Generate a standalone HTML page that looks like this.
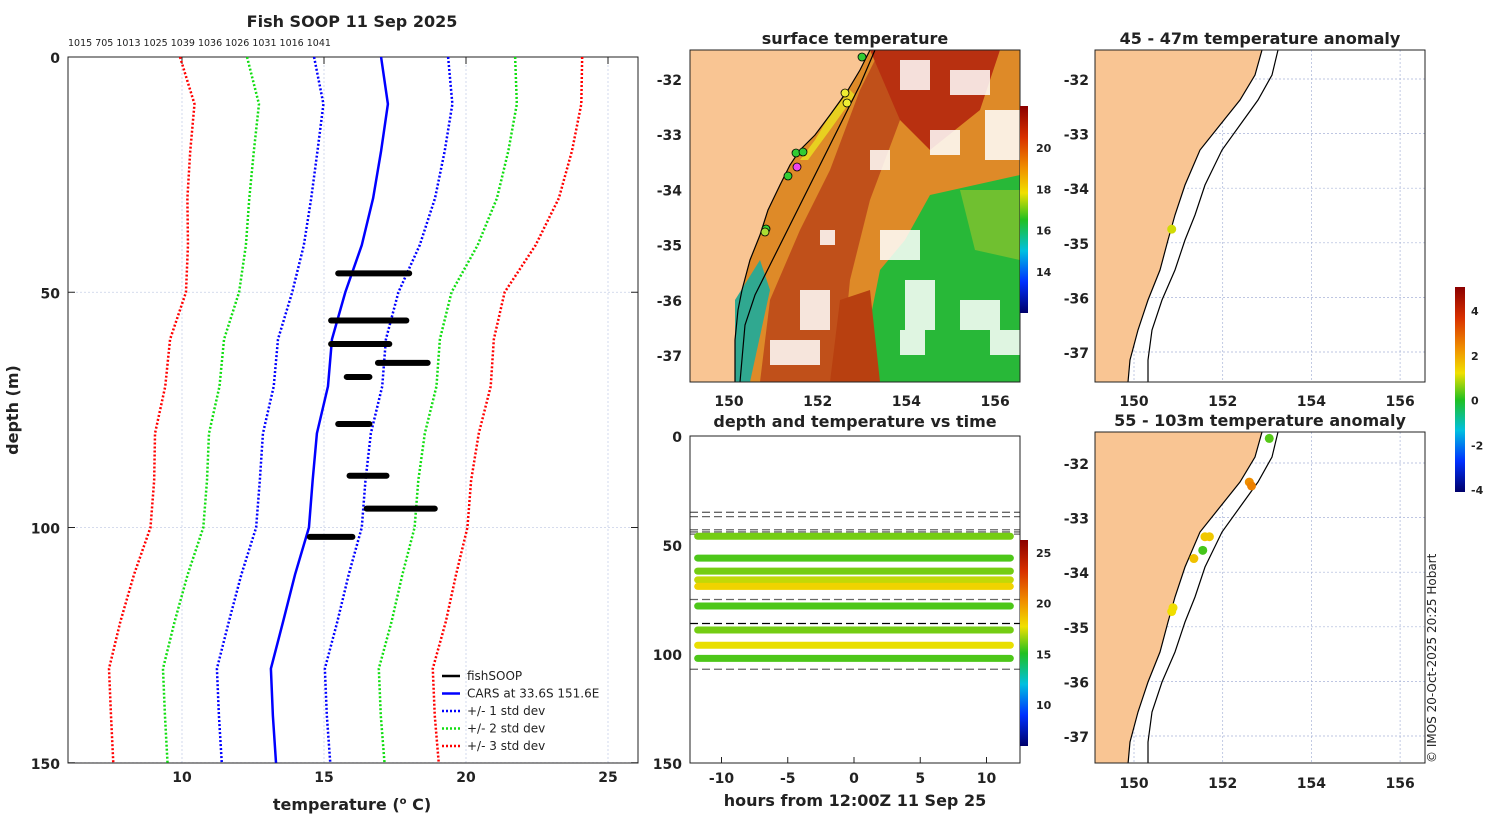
<!DOCTYPE html>
<html><head><meta charset="utf-8"><style>
body{margin:0;background:#fff;}
svg text{font-family:"DejaVu Sans","Liberation Sans",sans-serif;fill:#222;}
.b{font-weight:bold;}
</style></head><body>
<svg id="s" width="1500" height="820" viewBox="0 0 1500 820" xmlns="http://www.w3.org/2000/svg">
<defs>
<linearGradient id="jet" x1="0" y1="0" x2="0" y2="1">
<stop offset="0" stop-color="#8b0000"/><stop offset="0.15" stop-color="#d83000"/><stop offset="0.3" stop-color="#f09000"/><stop offset="0.42" stop-color="#f0e000"/><stop offset="0.55" stop-color="#20c020"/><stop offset="0.7" stop-color="#00c0e0"/><stop offset="0.85" stop-color="#0030ff"/><stop offset="1" stop-color="#00006a"/>
</linearGradient>
<clipPath id="cm"><rect x="690" y="50" width="330" height="332"/></clipPath>
<clipPath id="c1"><rect x="1095" y="50" width="330" height="332"/></clipPath>
<clipPath id="c2"><rect x="1095" y="432" width="330" height="331"/></clipPath>
<g id="coast">
<polygon points="1095,50 1262,50 1255,75 1240,100 1220,125 1200,150 1185,185 1175,215 1168,240 1160,270 1148,300 1138,330 1130,360 1128,382 1095,382" fill="#f9c593"/>
<polyline points="1262,50 1255,75 1240,100 1220,125 1200,150 1185,185 1175,215 1168,240 1160,270 1148,300 1138,330 1130,360 1128,382" fill="none" stroke="#000" stroke-width="1.2"/>
<polyline points="1278,50 1272,75 1258,100 1240,125 1222,150 1205,185 1195,215 1185,240 1175,270 1162,300 1152,330 1148,360 1148,382" fill="none" stroke="#000" stroke-width="1.2"/>
</g>
</defs>
<g id="left"></g>
<g id="mapm"></g>
<g id="mid"></g>
<g id="maps"></g>
<text x="1436" y="763" transform="rotate(-90 1436 763)" font-size="12">© IMOS 20-Oct-2025 20:25 Hobart</text>
</svg>
<script>
// ---- profile data ----
const depths=[0,10,20,30,40,50,60,70,80,90,100,110,120,130,140,150];
const carsMean=[17.01,17.25,17.01,16.73,16.33,15.75,15.28,15.14,14.75,14.6,14.47,13.98,13.56,13.13,13.2,13.31];
const carsSd=[2.36,2.27,2.24,2.18,2.04,1.87,1.9,1.91,1.9,1.86,1.86,1.89,1.91,1.9,1.9,1.91];
const soopDepth=[46,56,61,65,68,78,89,96,102];
const soopTmin=[15.5,15.25,15.25,16.9,15.8,15.5,15.9,16.5,14.5];
const soopTmax=[18.0,17.9,17.3,18.65,16.6,16.6,17.2,18.9,16.0];
const xTicks=[10,15,20,25];
const yTicks=[0,50,100,150];
const topLabels=["1015","705","1013","1025","1039","1036","1026","1031","1016","1041"];
// time panel
const tDepths=[46,56,62,66,69,78,89,96,102];
const tTemps=[16,15.5,16,17,18,15.5,16,17.5,15.5];
const dashDepths=[35,37,43,44,45,75,86,107];
const hTicks=[-10,-5,0,5,10];
// anomaly map dots
const anomLat1=[-34.75];const anomLon1=[150.85];const anomVal1=[1.0];
const anomLat2=[-31.55,-32.35,-32.42,-33.35,-33.35,-33.6,-33.75,-34.72,-34.65];
const anomLon2=[153.05,152.6,152.65,151.6,151.7,151.55,151.35,150.85,150.88];
const anomVal2=[0.3,2.3,2.5,1.5,1.5,0.2,1.6,1.2,1.2];

const NS="http://www.w3.org/2000/svg";
function el(p,t,a,txt){const e=document.createElementNS(NS,t);for(const k in a)e.setAttribute(k,a[k]);if(txt!==undefined)e.textContent=txt;p.appendChild(e);return e;}
const X=t=>182+(t-10)*28.4, Y=d=>57+d*4.705;
const L=document.getElementById('left');
xTicks.forEach(t=>{const g=el(L,'line',{x1:X(t),x2:X(t),y1:57,y2:763,stroke:'#c8d0e8','stroke-width':0.8,'stroke-dasharray':'2,2'});

const tx=el(L,'text',{x:X(t),y:782,'font-size':14,'text-anchor':'middle',class:'b'},t);

el(L,'line',{x1:X(t),x2:X(t),y1:57,y2:64,stroke:'#222'});});
yTicks.forEach(d=>{const g=el(L,'line',{x1:68,x2:638,y1:Y(d),y2:Y(d),stroke:'#c8d0e8','stroke-width':0.8,'stroke-dasharray':'2,2'});

const tx=el(L,'text',{x:60,y:Y(d)+6,'font-size':14,'text-anchor':'end',class:'b'},d);

el(L,'line',{x1:68,x2:75,y1:Y(d),y2:Y(d),stroke:'#222'});el(L,'line',{x1:631,x2:638,y1:Y(d),y2:Y(d),stroke:'#222'});});
const box=el(L,'rect',{x:68,y:57,width:570,height:706,fill:'none',stroke:'#222'});

[[3,'#f00'],[2,'#1d1'],[1,'#00f']].forEach(([n,c])=>{[1,-1].forEach(s=>{
const pts=depths.map((d,i)=>X(carsMean[i]+s*n*carsSd[i])+','+Y(d)).join(' ');
const p=el(L,'polyline',{points:pts,fill:'none',stroke:c,'stroke-width':2.5,'stroke-dasharray':'2,2'});
});});
const mp=el(L,'polyline',{points:depths.map((d,i)=>X(carsMean[i])+','+Y(d)).join(' '),fill:'none',stroke:'#00f','stroke-width':2.5});

soopDepth.forEach((d,i)=>{const s=el(L,'line',{x1:X(soopTmin[i]),x2:X(soopTmax[i]),y1:Y(d),y2:Y(d),stroke:'#000','stroke-width':6,'stroke-linecap':'round'});
});
let t=el(L,'text',{x:352,y:27,'font-size':16,'text-anchor':'middle',class:'b'},'Fish SOOP 11 Sep 2025');

t=el(L,'text',{x:68,y:46,'font-size':9.5},topLabels.join(' '));

t=el(L,'text',{x:352,y:810,'font-size':16,'text-anchor':'middle',class:'b'},'temperature (');
el(t,'tspan',{'font-size':10,dy:-6},'o');el(t,'tspan',{dy:6},' C)');

t=el(L,'text',{x:18,y:410,'font-size':16,'text-anchor':'middle',class:'b',transform:'rotate(-90 18 410)'},'depth (m)');

const leg=[['fishSOOP','#000',''],['CARS at 33.6S 151.6E','#00f',''],['+/- 1 std dev','#00f','2,2'],['+/- 2 std dev','#1d1','2,2'],['+/- 3 std dev','#f00','2,2']];
leg.forEach((e,i)=>{const y=676+i*17.5;el(L,'line',{x1:442,x2:460,y1:y,y2:y,stroke:e[1],'stroke-width':2.5,'stroke-dasharray':e[2]||'none'});
const tt=el(L,'text',{x:467,y:y+4,'font-size':12},e[0]);});

// ---- middle map ----
const M=document.getElementById('mapm');
const g=el(M,'g',{'clip-path':'url(#cm)'});
el(g,'rect',{x:690,y:50,width:330,height:332,fill:'#de8a28'});
el(g,'polygon',{points:'760,382 770,300 800,230 830,170 860,90 880,50 920,50 900,120 870,200 850,280 840,382',fill:'#c0501a'});
el(g,'polygon',{points:'870,50 1000,50 980,110 930,150 900,120',fill:'#b83010'});
el(g,'polygon',{points:'930,195 1020,175 1020,382 875,382 870,320 880,270 905,240',fill:'#28b838'});
el(g,'polygon',{points:'960,190 1020,190 1020,260 975,250',fill:'#70c030'});
el(g,'polygon',{points:'840,300 870,290 880,382 830,382',fill:'#b84010'});
[[900,60,30,30],[950,70,40,25],[985,110,35,50],[930,130,30,25],[880,230,40,30],[905,280,30,50],[800,290,30,40],[770,340,50,25],[960,300,40,30],[870,150,20,20],[990,330,30,25],[900,330,25,25],[820,230,15,15]].forEach(r=>el(g,'rect',{x:r[0],y:r[1],width:r[2],height:r[3],fill:'#fff',opacity:0.85}));
el(g,'polygon',{points:'690,50 870,50 860,70 848,90 830,115 815,135 800,150 790,165 780,185 768,210 760,235 750,260 742,290 738,310 735,340 735,382 690,382',fill:'#f9c593'});
el(g,'polygon',{points:'850,90 830,115 815,140 800,160 808,160 830,130 855,95',fill:'#e8d020'});
el(g,'polygon',{points:'735,300 760,260 770,290 750,382 735,382',fill:'#30a890'});
el(g,'polyline',{points:'870,50 860,70 848,90 830,115 815,135 800,150 790,165 780,185 768,210 760,235 750,260 742,290 738,310 735,340 735,382',fill:'none',stroke:'#000','stroke-width':1.2});
el(g,'polyline',{points:'875,50 860,85 845,115 830,145 815,175 800,205 785,235 770,265 755,295 745,325 740,382',fill:'none',stroke:'#000','stroke-width':1.2});
[[862,57,'#3c3'],[845,93,'#ee3'],[847,103,'#ee3'],[796,153,'#3c3'],[803,152,'#3c3'],[788,176,'#3c3'],[797,167,'#e4e'],[766,229,'#3c3'],[765,232,'#ad3']].forEach(d=>el(g,'circle',{cx:d[0],cy:d[1],r:4,fill:d[2],stroke:'#000','stroke-width':0.8}));
t=el(M,'rect',{x:690,y:50,width:330,height:332,fill:'none',stroke:'#222'});

t=el(M,'text',{x:855,y:44,'font-size':16,'text-anchor':'middle',class:'b'},'surface temperature');

const lons=[150,152,154,156],lats=[-32,-33,-34,-35,-36,-37];
lons.forEach((l,i)=>{el(M,'text',{x:729+i*88.7,y:406,'font-size':14,'text-anchor':'middle',class:'b'},l);});
lats.forEach((l,i)=>{el(M,'text',{x:682,y:85+i*55.2,'font-size':14,'text-anchor':'end',class:'b'},l);});
el(M,'rect',{x:1020,y:106,width:8,height:207,fill:'url(#jet)'});
[20,18,16,14].forEach((v,i)=>el(M,'text',{x:1036,y:152+i*41.3,'font-size':11,class:'b'},v));

// ---- middle bottom ----
const Mi=document.getElementById('mid');
const H=h=>854+h*13.25, D=d=>436+d*2.18;
function frac2col(f){const st=[[0,[139,0,0]],[0.15,[216,48,0]],[0.3,[240,144,0]],[0.42,[240,224,0]],[0.55,[32,192,32]],[0.7,[0,192,224]],[0.85,[0,48,255]],[1,[0,0,106]]];
f=Math.max(0,Math.min(1,f));
for(let i=1;i<st.length;i++){if(f<=st[i][0]){const a=st[i-1],b=st[i],k=(f-a[0])/(b[0]-a[0]);return 'rgb('+a[1].map((c,j)=>Math.round(c+(b[1][j]-c)*k)).join(',')+')';}}return 'rgb(0,0,106)';}
const tcol=v=>frac2col((26.2-v)/20.5);
const anomColor=v=>frac2col((5-v)/9.1);
dashDepths.forEach(d=>{const l=el(Mi,'line',{x1:690,x2:1020,y1:D(d),y2:D(d),stroke:d==86?'#000':'#666','stroke-width':1.3,'stroke-dasharray':'8,4'});
});
tDepths.forEach((d,i)=>{const b=el(Mi,'line',{x1:H(-11.8),x2:H(11.8),y1:D(d),y2:D(d),stroke:tcol(tTemps[i]),'stroke-width':7,'stroke-linecap':'round'});
});
t=el(Mi,'rect',{x:690,y:436,width:330,height:327,fill:'none',stroke:'#222'});

hTicks.forEach(h=>{el(Mi,'text',{x:H(h),y:783,'font-size':14,'text-anchor':'middle',class:'b'},h);el(Mi,'line',{x1:H(h),x2:H(h),y1:763,y2:757,stroke:'#222'});});
yTicks.forEach(d=>{el(Mi,'text',{x:682,y:D(d)+6,'font-size':14,'text-anchor':'end',class:'b'},d);});
t=el(Mi,'text',{x:855,y:427,'font-size':16,'text-anchor':'middle',class:'b'},'depth and temperature vs time');

t=el(Mi,'text',{x:855,y:806,'font-size':16,'text-anchor':'middle',class:'b'},'hours from 12:00Z 11 Sep 25');

el(Mi,'rect',{x:1020,y:540,width:8,height:206,fill:'url(#jet)'});
[25,20,15,10].forEach((v,i)=>el(Mi,'text',{x:1036,y:557+i*50.7,'font-size':11,class:'b'},v));

// ---- anomaly maps ----
const A=document.getElementById('maps');
[[50,'url(#c1)',0,'45 - 47m temperature anomaly',anomLat1,anomLon1,anomVal1,79],[432,'url(#c2)',382,'55 - 103m temperature anomaly',anomLat2,anomLon2,anomVal2,463]].forEach(m=>{
const gg=el(A,'g',{'clip-path':m[1]});
el(gg,'rect',{x:1095,y:m[0],width:330,height:332,fill:'#fff'});
for(let i=0;i<6;i++)el(gg,'line',{x1:1095,x2:1425,y1:m[7]+i*54.6,y2:m[7]+i*54.6,stroke:'#a8b4d8','stroke-width':0.7,'stroke-dasharray':'2,2'});
for(let i=0;i<4;i++)el(gg,'line',{x1:1134+i*88.7,x2:1134+i*88.7,y1:m[0],y2:m[0]+332,stroke:'#a8b4d8','stroke-width':0.7,'stroke-dasharray':'2,2'});
el(gg,'use',{href:'#coast',transform:'translate(0,'+m[2]+')'});
m[4].forEach((la,i)=>{const c=el(gg,'circle',{cx:1134+(m[5][i]-150)*44.35,cy:m[7]+(-32-la)*54.6,r:4.5,fill:anomColor(m[6][i])});
});
const f=el(A,'rect',{x:1095,y:m[0],width:330,height:(m[0]==50?332:331),fill:'none',stroke:'#222'});

const tt=el(A,'text',{x:1260,y:m[0]-6,'font-size':16,'text-anchor':'middle',class:'b'},m[3]);

lats.forEach((l,i)=>el(A,'text',{x:1089,y:m[7]+6+i*54.6,'font-size':14,'text-anchor':'end',class:'b'},l));
lons.forEach((l,i)=>el(A,'text',{x:1134+i*88.7,y:m[0]+356,'font-size':14,'text-anchor':'middle',class:'b'},l));
});
el(A,'rect',{x:1455,y:287,width:10,height:205,fill:'url(#jet)'});
[4,2,0,-2,-4].forEach((v,i)=>el(A,'text',{x:1471,y:315+i*44.8,'font-size':11,class:'b'},v));
</script>
</body></html>
